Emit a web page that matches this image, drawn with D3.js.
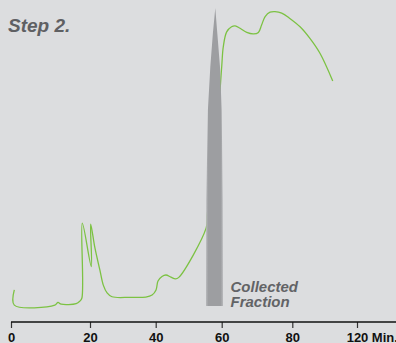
<!DOCTYPE html>
<html>
<head>
<meta charset="utf-8">
<script src="https://cdn.jsdelivr.net/npm/d3@7"></script>
<style>
  html, body { margin: 0; padding: 0; background: #dcdddf; }
  svg { display: block; }
</style>
</head>
<body>
<div id="chart"></div>
<script>
// Elution trace (minutes, detector signal in relative units)
const traceMinutes = [0.84, 0.84, 11.1, 11.9, 12.7, 16.5, 17.4, 17.95, 18.05, 20.4, 20.2,
  21.5, 23.0, 24.05, 25.2, 26.7, 32.2, 37.0, 38.9, 40.1, 40.7, 41.9, 43.1, 44.6, 46.0, 47.0,
  55.3, 55.7, 57.0, 58.5, 60.0, 60.45, 61.41, 62.8, 63.8, 65.2, 67.1, 69.0, 70.4, 71.3, 72.3,
  73.7, 75.1, 77.0, 79.3, 84.8, 90.9, 97.1, 105.0];
const traceSignal = [5.4, 0.3, 0.3, 1.2, 0.6, 0.8, 1.6, 2.7, 27.8, 13.2, 27.5,
  19.5, 12.1, 7.0, 4.4, 3.1, 2.9, 3.0, 3.7, 5.4, 8.4, 9.9, 10.4, 9.7, 9.1, 9.6,
  26.2, 31.2, 45.0, 58.0, 80.3, 87.0, 92.0, 93.7, 94.0, 93.2, 91.8, 91.3, 91.8, 94.3, 97.1,
  98.6, 98.8, 98.3, 96.5, 93.7, 89.8, 84.8, 75.5];

// Outline of the collected fraction peak
const fractionMinutes = [55.24, 55.33, 55.82, 56.55, 57.33, 58.06, 58.67, 59.48, 60.0, 60.28, 60.37];
const fractionSignal  = [0, 35.6, 65.8, 80.3, 91.5, 100, 91.5, 80.3, 65.8, 35.6, 0];

// Time axis
const tickValues = [0, 20, 40, 60, 80, 120];
const tickUnit = "Min.";
const title = "Step 2.";
const fractionLabel = ["Collected", "Fraction"];

const W = 396, H = 343;
const svg = d3.select("#chart").append("svg").attr("width", W).attr("height", H);

const defs = svg.append("defs");
const grad = defs.append("linearGradient").attr("id", "fracFill")
  .attr("x1", "0%").attr("x2", "100%").attr("y1", "0%").attr("y2", "0%");
grad.append("stop").attr("offset", "0%").attr("stop-color", "#b7b8bb");
grad.append("stop").attr("offset", "14%").attr("stop-color", "#9d9ea1");
grad.append("stop").attr("offset", "86%").attr("stop-color", "#9d9ea1");
grad.append("stop").attr("offset", "100%").attr("stop-color", "#b7b8bb");

// Hand-spaced time axis: each labelled tick has its own position
const x = d3.scaleLinear().domain(tickValues).range([11, 90, 155.7, 221.7, 292.3, 357]);
const y = d3.scaleLinear().domain([0, 100]).range([306, 8]);

const trace = traceMinutes.map((m, i) => [m, traceSignal[i]]);
const fraction = fractionMinutes.map((m, i) => [m, fractionSignal[i]]);

const line = d3.line().x(d => x(d[0])).y(d => y(d[1])).curve(d3.curveCatmullRom.alpha(0.5));

svg.append("path")
  .datum(trace)
  .attr("d", line)
  .attr("fill", "none")
  .attr("stroke", "#7cc243")
  .attr("stroke-width", 1.3)
  .attr("stroke-linejoin", "round");

svg.append("path")
  .datum(fraction)
  .attr("d", d3.line().x(d => x(d[0])).y(d => y(d[1])).curve(d3.curveLinear)(fraction) + "Z")
  .attr("fill", "url(#fracFill)");

// Axis
const axisY = 322;
const axisG = svg.append("g").attr("transform", `translate(0,${axisY})`)
  .call(d3.axisBottom(x).tickValues(tickValues).tickSize(6).tickSizeOuter(0).tickPadding(5)
    .tickFormat(d3.format("d")));
axisG.select(".domain").remove();
axisG.append("line")
  .attr("x1", x(0)).attr("x2", W).attr("y1", 0).attr("y2", 0)
  .attr("stroke", "#111").attr("stroke-width", 1.3);
axisG.selectAll(".tick line").attr("stroke", "#333").attr("stroke-width", 1.2);
axisG.selectAll(".tick text")
  .attr("fill", "#111")
  .style("font-family", "'Liberation Sans', Arial, sans-serif")
  .style("font-size", "13px")
  .style("font-weight", "bold");

const lastTick = axisG.selectAll(".tick text").filter(d => d === tickValues[tickValues.length - 1]);
const lastW = lastTick.node().getComputedTextLength();
axisG.append("text")
  .attr("x", x(tickValues[tickValues.length - 1]) + lastW / 2 + 4)
  .attr("y", 20)
  .attr("text-anchor", "start")
  .text(tickUnit)
  .attr("fill", "#111")
  .style("font-family", "'Liberation Sans', Arial, sans-serif")
  .style("font-size", "13px")
  .style("font-weight", "bold");

// Title
svg.append("text")
  .attr("x", 8).attr("y", 32)
  .text(title)
  .attr("fill", "#5f6063")
  .style("font-family", "'Liberation Sans', Arial, sans-serif")
  .style("font-size", "19px")
  .style("font-weight", "bold")
  .style("font-style", "italic");

// Fraction label
svg.append("text")
  .attr("x", 230.5).attr("y", 292)
  .selectAll("tspan").data(fractionLabel).join("tspan")
  .attr("x", 230.5)
  .attr("dy", (d, i) => i === 0 ? 0 : 15)
  .text(d => d)
  .attr("fill", "#626366")
  .style("font-family", "'Liberation Sans', Arial, sans-serif")
  .style("font-size", "15px")
  .style("font-weight", "bold")
  .style("font-style", "italic");
</script>
</body>
</html>
